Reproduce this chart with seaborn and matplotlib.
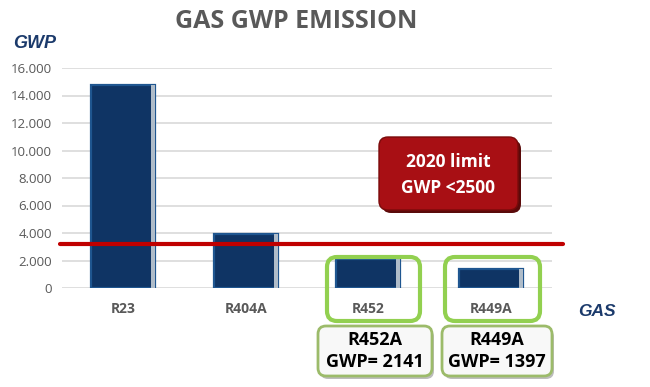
import matplotlib
matplotlib.use("Agg")
import matplotlib.pyplot as plt
import matplotlib.transforms as mtransforms
from matplotlib.patches import FancyBboxPatch, Rectangle
from matplotlib.ticker import FuncFormatter, FixedLocator
import seaborn as sns
import pandas as pd

# ---- data ----
gases = ["R23", "R404A", "R452", "R449A"]
gwp_values = [14800, 3922, 2141, 1397]
limit_line_value = 3200
y_tick_values = [0, 2000, 4000, 6000, 8000, 10000, 12000, 14000, 16000]
title_text = "GAS GWP EMISSION"
y_label = "GWP"
x_label = "GAS"
limit_lines = ["2020 limit", "GWP <2500"]
callout_lines = [["R452A", "GWP= 2141"], ["R449A", "GWP= 1397"]]

sns.set_theme(style="white")
plt.rcParams['font.family'] = ['Open Sans', 'DejaVu Sans']

W, H = 650, 387
fig = plt.figure(figsize=(W / 100, H / 100), dpi=100)
ax = fig.add_axes([62 / W, (H - 288) / H, 490 / W, 220 / H])

df = pd.DataFrame({"gas": gases, "gwp": gwp_values})
sns.barplot(data=df, x="gas", y="gwp", color="#0F3464", saturation=1,
            width=0.52, edgecolor="#1F5690", linewidth=1.6, ax=ax, zorder=3)

# bevel highlight on right side of each bar (derived from drawn bars)
for p in list(ax.patches):
    x, y0 = p.get_x(), p.get_y()
    w, h = p.get_width(), p.get_height()
    ax.add_patch(Rectangle((x + w * 0.94, y0), w * 0.06, h,
                           facecolor="#AFBCC9", edgecolor="none", zorder=4))

ax.set_xlim(-0.5, len(gases) - 0.5)
ax.set_ylim(0, max(y_tick_values))
ax.yaxis.set_major_locator(FixedLocator(y_tick_values))
ax.yaxis.set_major_formatter(FuncFormatter(lambda v, p: f"{v:,.0f}".replace(",", ".")))
ax.yaxis.grid(True, color="#d9d9d9", linewidth=1.2, zorder=0)
ax.set_axisbelow(True)
for s in ax.spines.values():
    s.set_visible(False)
ax.set_xlabel("")
ax.set_ylabel("")
ax.tick_params(axis="y", length=0, pad=7, labelsize=9.5, labelcolor="#595959")
ax.tick_params(axis="x", length=0, pad=10, labelsize=10, labelcolor="#595959")
for lbl in ax.get_xticklabels():
    lbl.set_fontweight("bold")

# red limit line
ax.axhline(limit_line_value, xmin=-0.004, xmax=1.022, color="#C00000",
           linewidth=3, clip_on=False, zorder=5)

px = mtransforms.IdentityTransform()


def box(x0, y0, x1, y1, r, fc, ec, lw, z=6):
    p = FancyBboxPatch((x0, H - y1), x1 - x0, y1 - y0,
                       boxstyle=f"round,pad=0,rounding_size={r}",
                       transform=px, facecolor=fc, edgecolor=ec,
                       linewidth=lw, zorder=z)
    fig.add_artist(p)


def ftext(x, y, s, **kw):
    fig.text(x / W, 1 - y / H, s, ha="center", va="center", **kw)


# title and axis labels
ftext(296, 22, title_text, fontsize=18, fontweight="bold", color="#595959")
ftext(35, 43, y_label, fontsize=13, fontweight="bold", fontstyle="italic",
      color="#1B3A6B", family=["Liberation Sans", "DejaVu Sans"])
ftext(597, 311, x_label, fontsize=12.5, fontweight="bold", fontstyle="italic",
      color="#1B3A6B", family=["Liberation Sans", "DejaVu Sans"])

# red limit box
box(382, 140, 521, 213, 9, "#5a0a0a", "none", 0, z=5)
box(379, 137, 518, 210, 9, "#A80F14", "#7a0a0a", 1)
ftext(448, 162, limit_lines[0], fontsize=12.5, fontweight="bold", color="white", zorder=7)
ftext(448, 188, limit_lines[1], fontsize=12.5, fontweight="bold", color="white", zorder=7)

# green highlight boxes around the last two bars
box(327, 257, 420, 321, 10, "none", "#92D050", 3)
box(445, 257, 540, 321, 10, "none", "#92D050", 3)

# callout boxes
for (x0, x1), lines in zip([(318, 432), (442, 552)], callout_lines):
    box(x0 + 2, 329, x1 + 2, 379, 8, "#bdbdbd", "none", 0, z=5)
    box(x0, 326, x1, 376, 8, "#f8f8f8", "#9CBB6A", 2)
    cx = (x0 + x1) / 2
    ftext(cx, 340, lines[0], fontsize=13, fontweight="bold", color="black", zorder=7)
    ftext(cx, 362, lines[1], fontsize=13, fontweight="bold", color="black", zorder=7)

fig.savefig("out.png", dpi=100)
